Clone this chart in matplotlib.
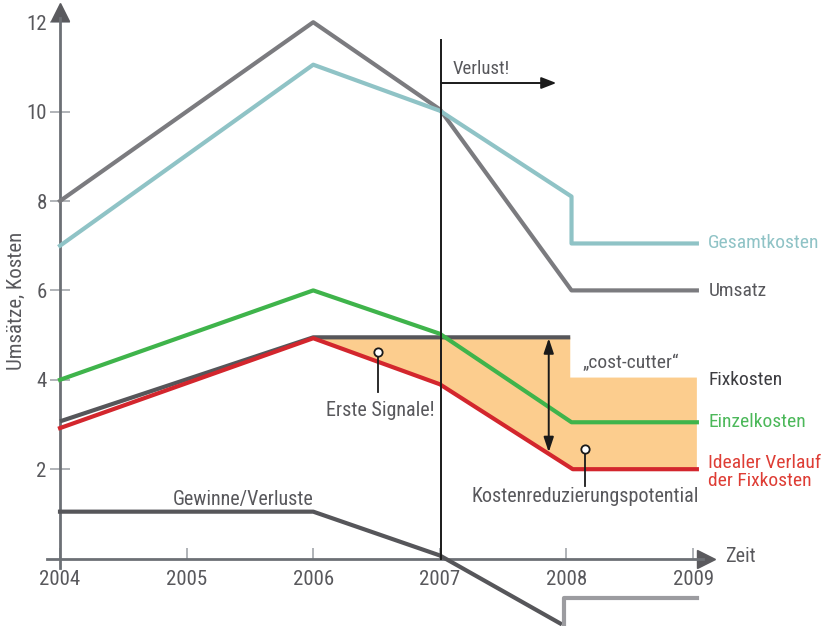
import numpy as np
import matplotlib
matplotlib.use("Agg")
import matplotlib.pyplot as plt

plt.rcParams["font.family"] = ["Roboto Condensed", "Liberation Sans", "DejaVu Sans"]

# --- data ---
years = [2004, 2005, 2006, 2007, 2008, 2009]
y_ticks = [2, 4, 6, 8, 10, 12]

umsatz_x = [2004, 2006, 2007, 2008.04, 2009.03]
umsatz_y = [8.0, 12.0, 10.05, 6.0, 6.0]

gesamt_x = [2004, 2006, 2007, 2008.04, 2008.04, 2009.03]
gesamt_y = [7.0, 11.05, 10.02, 8.1, 7.05, 7.05]

einzel_x = [2004, 2006, 2007, 2008.04, 2009.03]
einzel_y = [4.0, 6.0, 5.03, 3.05, 3.05]

fix_x = [2004, 2006, 2008.03]
fix_y = [3.07, 4.95, 4.95]

ideal_x = [2004, 2006, 2007, 2008.05, 2009.03]
ideal_y = [2.92, 4.93, 3.9, 2.0, 2.0]

cutter_x = [2006, 2008.03, 2008.03, 2009.03]
cutter_y = [4.95, 4.95, 4.05, 4.05]

gewinn_x = [2004, 2006, 2007, 2007.95]
gewinn_y = [1.05, 1.05, 0.07, -1.45]
gewinn2_x = [2007.98, 2007.98, 2009.03]
gewinn2_y = [-1.51, -0.88, -0.88]

c_umsatz = "#7b7b7f"
c_gesamt = "#8fc3c6"
c_einzel = "#3fb44b"
c_fix = "#56565a"
c_ideal = "#d3262d"
c_fill = "#fccd8e"
c_text = "#58585c"

fig = plt.figure(figsize=(8.25, 6.26), dpi=100)
ax = fig.add_axes([0, 0, 1, 1])
ax.set_xlim(2003.526, 2010.042)
ax.set_ylim(-1.508, 12.497)

# orange area between fixed costs and ideal course
ax.fill(cutter_x + ideal_x[:1:-1] + ideal_x[1:2],
        cutter_y + ideal_y[:1:-1] + ideal_y[1:2],
        color=c_fill, lw=0, zorder=1)

lw = 3
ax.plot(umsatz_x, umsatz_y, color=c_umsatz, lw=lw, zorder=3)
ax.plot(gesamt_x, gesamt_y, color=c_gesamt, lw=lw, zorder=3)
ax.plot(fix_x, fix_y, color=c_fix, lw=lw, zorder=3, solid_capstyle="butt")
ax.plot(ideal_x, ideal_y, color=c_ideal, lw=lw, zorder=4)
ax.plot(einzel_x, einzel_y, color=c_einzel, lw=lw, zorder=5)
ax.plot(gewinn_x, gewinn_y, color=c_fix, lw=lw, zorder=3)
ax.plot(gewinn2_x, gewinn2_y, color="#9c9ca0", lw=lw, zorder=3)

# axes
for s in ["top", "right"]:
    ax.spines[s].set_visible(False)
ax.spines["left"].set_position(("data", 2004))
ax.spines["bottom"].set_position(("data", 0))
ax.spines["left"].set_bounds(-0.2, 12.1)
ax.spines["bottom"].set_bounds(2003.9, 2009.08)
for s in ["left", "bottom"]:
    ax.spines[s].set_color("#6c7075")
    ax.spines[s].set_linewidth(2)
    ax.spines[s].set_zorder(2)
ax.plot([2004], [12.22], marker="^", markersize=13, color="#5a5a5e",
        clip_on=False, zorder=2)
ax.plot([2009.1], [0], marker=">", markersize=13, color="#5a5a5e",
        clip_on=False, zorder=2)

ax.set_xticks(years)
ax.set_yticks(y_ticks)
ax.tick_params(axis="x", direction="in", length=8, width=1.2,
               color="#a3a7ab", labelsize=15, labelcolor=c_text, pad=8)
ax.tick_params(axis="y", direction="inout", length=15, width=1.2,
               color="#a3a7ab", labelsize=15, labelcolor=c_text, pad=2)
ax.set_ylabel("Umsätze, Kosten", fontsize=15, color=c_text)
ax.yaxis.set_label_coords(0.031, 0.52)
ax.text(2009.25, 0.05, "Zeit", fontsize=14.5, color=c_text,
        ha="left", va="center")

# loss marker
ax.plot([2007.01, 2007.01], [0, 11.6], color="#1a1a1a", lw=1.4, zorder=6)
ax.annotate("", xy=(2007.92, 10.64), xytext=(2007.01, 10.64),
            arrowprops=dict(arrowstyle="-|>,head_length=0.9,head_width=0.35",
                            color="#1a1a1a", lw=1.4, shrinkA=0, shrinkB=0),
            zorder=6)
ax.text(2007.1, 10.75, "Verlust!", fontsize=13.5, color=c_text,
        ha="left", va="bottom")

# cost-cutter arrow
ax.annotate("", xy=(2007.86, 2.38), xytext=(2007.86, 4.93),
            arrowprops=dict(arrowstyle="<|-|>,head_length=0.9,head_width=0.3",
                            color="#1a1a1a", lw=1.4, shrinkA=0, shrinkB=0),
            zorder=6)
ax.text(2008.51, 4.38, "„cost-cutter“", fontsize=14, color=c_text,
        ha="center", va="center")

# callouts
ax.plot([2006.51, 2006.51], [3.72, 4.55], color="#1a1a1a", lw=1.3, zorder=6)
ax.plot([2006.51], [4.62], marker="o", markersize=6, mfc="white",
        mec="#1a1a1a", mew=1.3, zorder=7)
ax.text(2006.53, 3.32, "Erste Signale!", fontsize=14.5, color=c_text,
        ha="center", va="center")

ax.plot([2008.15, 2008.15], [1.62, 2.38], color="#1a1a1a", lw=1.3, zorder=6)
ax.plot([2008.15], [2.45], marker="o", markersize=6, mfc="white",
        mec="#1a1a1a", mew=1.3, zorder=7)
ax.text(2008.15, 1.38, "Kostenreduzierungspotential", fontsize=14.5,
        color=c_text, ha="center", va="center")

ax.text(2005.45, 1.33, "Gewinne/Verluste", fontsize=14.5, color=c_text,
        ha="center", va="center")

# series labels
lx = 2009.12
ax.text(lx, 7.06, "Gesamtkosten", fontsize=14, color="#8fc3c6", va="center")
ax.text(lx, 5.98, "Umsatz", fontsize=14, color=c_text, va="center")
ax.text(lx, 3.99, "Fixkosten", fontsize=14, color="#3c3c40", va="center")
ax.text(lx, 3.05, "Einzelkosten", fontsize=14, color="#4cb85a", va="center")
ax.text(lx, 1.94, "Idealer Verlauf\nder Fixkosten", fontsize=14,
        color="#de3d35", va="center", linespacing=1.0)

fig.savefig("out.png", dpi=100)
